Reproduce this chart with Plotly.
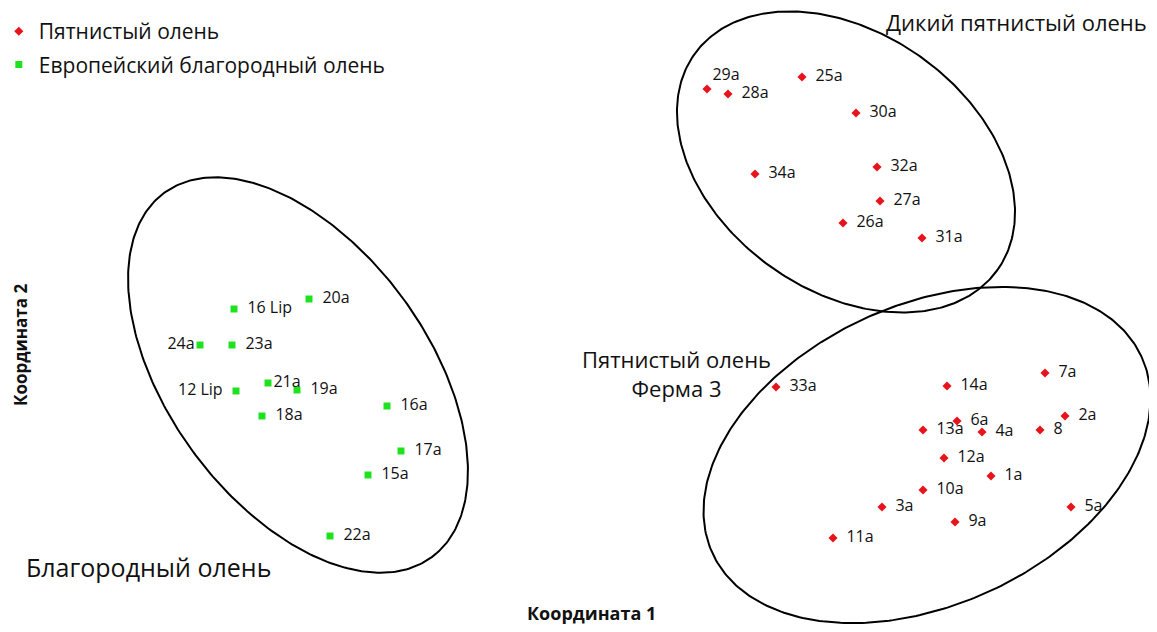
import numpy as np
import plotly.graph_objects as go

# ordination scores (Coordinate 2 grows downward here)
red_deer_labels = ["20a", "16 Lip", "24a", "23a", "21a", "19a", "12 Lip", "18a",
                   "16a", "17a", "15a", "22a"]
red_deer_c1 = [309, 234, 200, 232, 268, 297, 236, 262, 387, 401, 368, 330]
red_deer_c2 = [299, 309, 345, 345, 383, 390, 391, 416, 406, 451, 475, 536]
red_deer_pos = ["middle right", "middle right", "middle left", "middle right",
                "middle right", "middle right", "middle left", "middle right",
                "middle right", "middle right", "middle right", "middle right"]

sika_labels = ["29a", "28a", "25a", "30a", "32a", "34a", "27a", "26a", "31a",
               "7a", "33a", "14a", "2a", "6a", "13a", "4a", "8", "12a", "1a",
               "10a", "3a", "5a", "9a", "11a"]
sika_c1 = [707, 728, 802, 856, 877, 755, 880, 843, 922,
           1045, 776, 947, 1065, 957, 923, 982, 1040, 944, 991,
           923, 882, 1071, 955, 833]
sika_c2 = [89, 94, 77, 113, 167, 174, 201, 223, 238,
           373, 387, 386, 416, 421, 430, 432, 430, 458, 476,
           490, 507, 507, 522, 538]
sika_pos = ["top right"] + ["middle right"] * 23

# labels that sit tight against their marker in the original
tight = {"21a", "24a"}

# group ellipses: centre, semi-axes, tilt (degrees)
ell_names = ["Благородный олень", "Дикий пятнистый олень", "Пятнистый олень<br>Ферма 3"]
ell_cx = [298, 846, 927]
ell_cy = [375, 162, 455]
ell_a = [226, 186, 236]
ell_b = [130, 129, 150]
ell_angle = [53.7, 35.4, -24.6]

RED = "#e8141c"
GREEN = "#1fe21f"
FONT = "Open Sans, Arial, sans-serif"
PAD = "\u2002"


def pad(labels, positions):
    out = []
    for lab, pos in zip(labels, positions):
        if lab in tight or pos.startswith("top"):
            out.append(lab)
        elif pos.endswith("left"):
            out.append(lab + PAD)
        else:
            out.append(PAD + lab)
    return out


fig = go.Figure()

t = np.linspace(0, 2 * np.pi, 361)
for cx, cy, a, b, ang in zip(ell_cx, ell_cy, ell_a, ell_b, ell_angle):
    th = np.radians(ang)
    ex = cx + a * np.cos(t) * np.cos(th) - b * np.sin(t) * np.sin(th)
    ey = cy + a * np.cos(t) * np.sin(th) + b * np.sin(t) * np.cos(th)
    fig.add_trace(go.Scatter(
        x=ex, y=ey, mode="lines", line=dict(color="black", width=2),
        showlegend=False, hoverinfo="skip",
    ))

fig.add_trace(go.Scatter(
    x=sika_c1, y=sika_c2, mode="markers+text", text=pad(sika_labels, sika_pos),
    textposition=sika_pos, name="Пятнистый олень", legendgroup="sika",
    marker=dict(symbol="diamond", size=7, color=RED),
    textfont=dict(family=FONT, size=16, color="#111"),
))
fig.add_trace(go.Scatter(
    x=red_deer_c1, y=red_deer_c2, mode="markers+text",
    text=pad(red_deer_labels, red_deer_pos),
    textposition=red_deer_pos, name="Европейский благородный олень",
    legendgroup="elaphus",
    marker=dict(symbol="square", size=7, color=GREEN),
    textfont=dict(family=FONT, size=16, color="#111"),
))

ann = [
    dict(x=148, y=567, text=ell_names[0], font_size=25),
    dict(x=1016, y=22, text=ell_names[1], font_size=22),
    dict(x=676, y=373, text=ell_names[2], font_size=22),
    dict(x=591, y=613, text="<b>Координата 1</b>", font_size=18),
    dict(x=20, y=345, text="<b>Координата 2</b>", font_size=17, textangle=-90),
]
for a in ann:
    fig.add_annotation(xref="x", yref="y", showarrow=False, borderpad=0,
                       font=dict(family=FONT, size=a.pop("font_size"), color="#111"), **a)

# the page body has an 8px margin, so ranges start at 8 to keep a 1:1 pixel scale
fig.update_layout(
    width=1149, height=624,
    margin=dict(l=0, r=0, t=0, b=0, autoexpand=False),
    plot_bgcolor="white", paper_bgcolor="white",
    xaxis=dict(range=[8, 1157], visible=False),
    yaxis=dict(range=[632, 8], visible=False),
    legend=dict(x=-0.008, y=0.995, xanchor="left", yanchor="top",
                font=dict(family=FONT, size=21, color="#111"),
                tracegroupgap=3, bgcolor="rgba(0,0,0,0)"),
)

fig.write_html("out.html")
